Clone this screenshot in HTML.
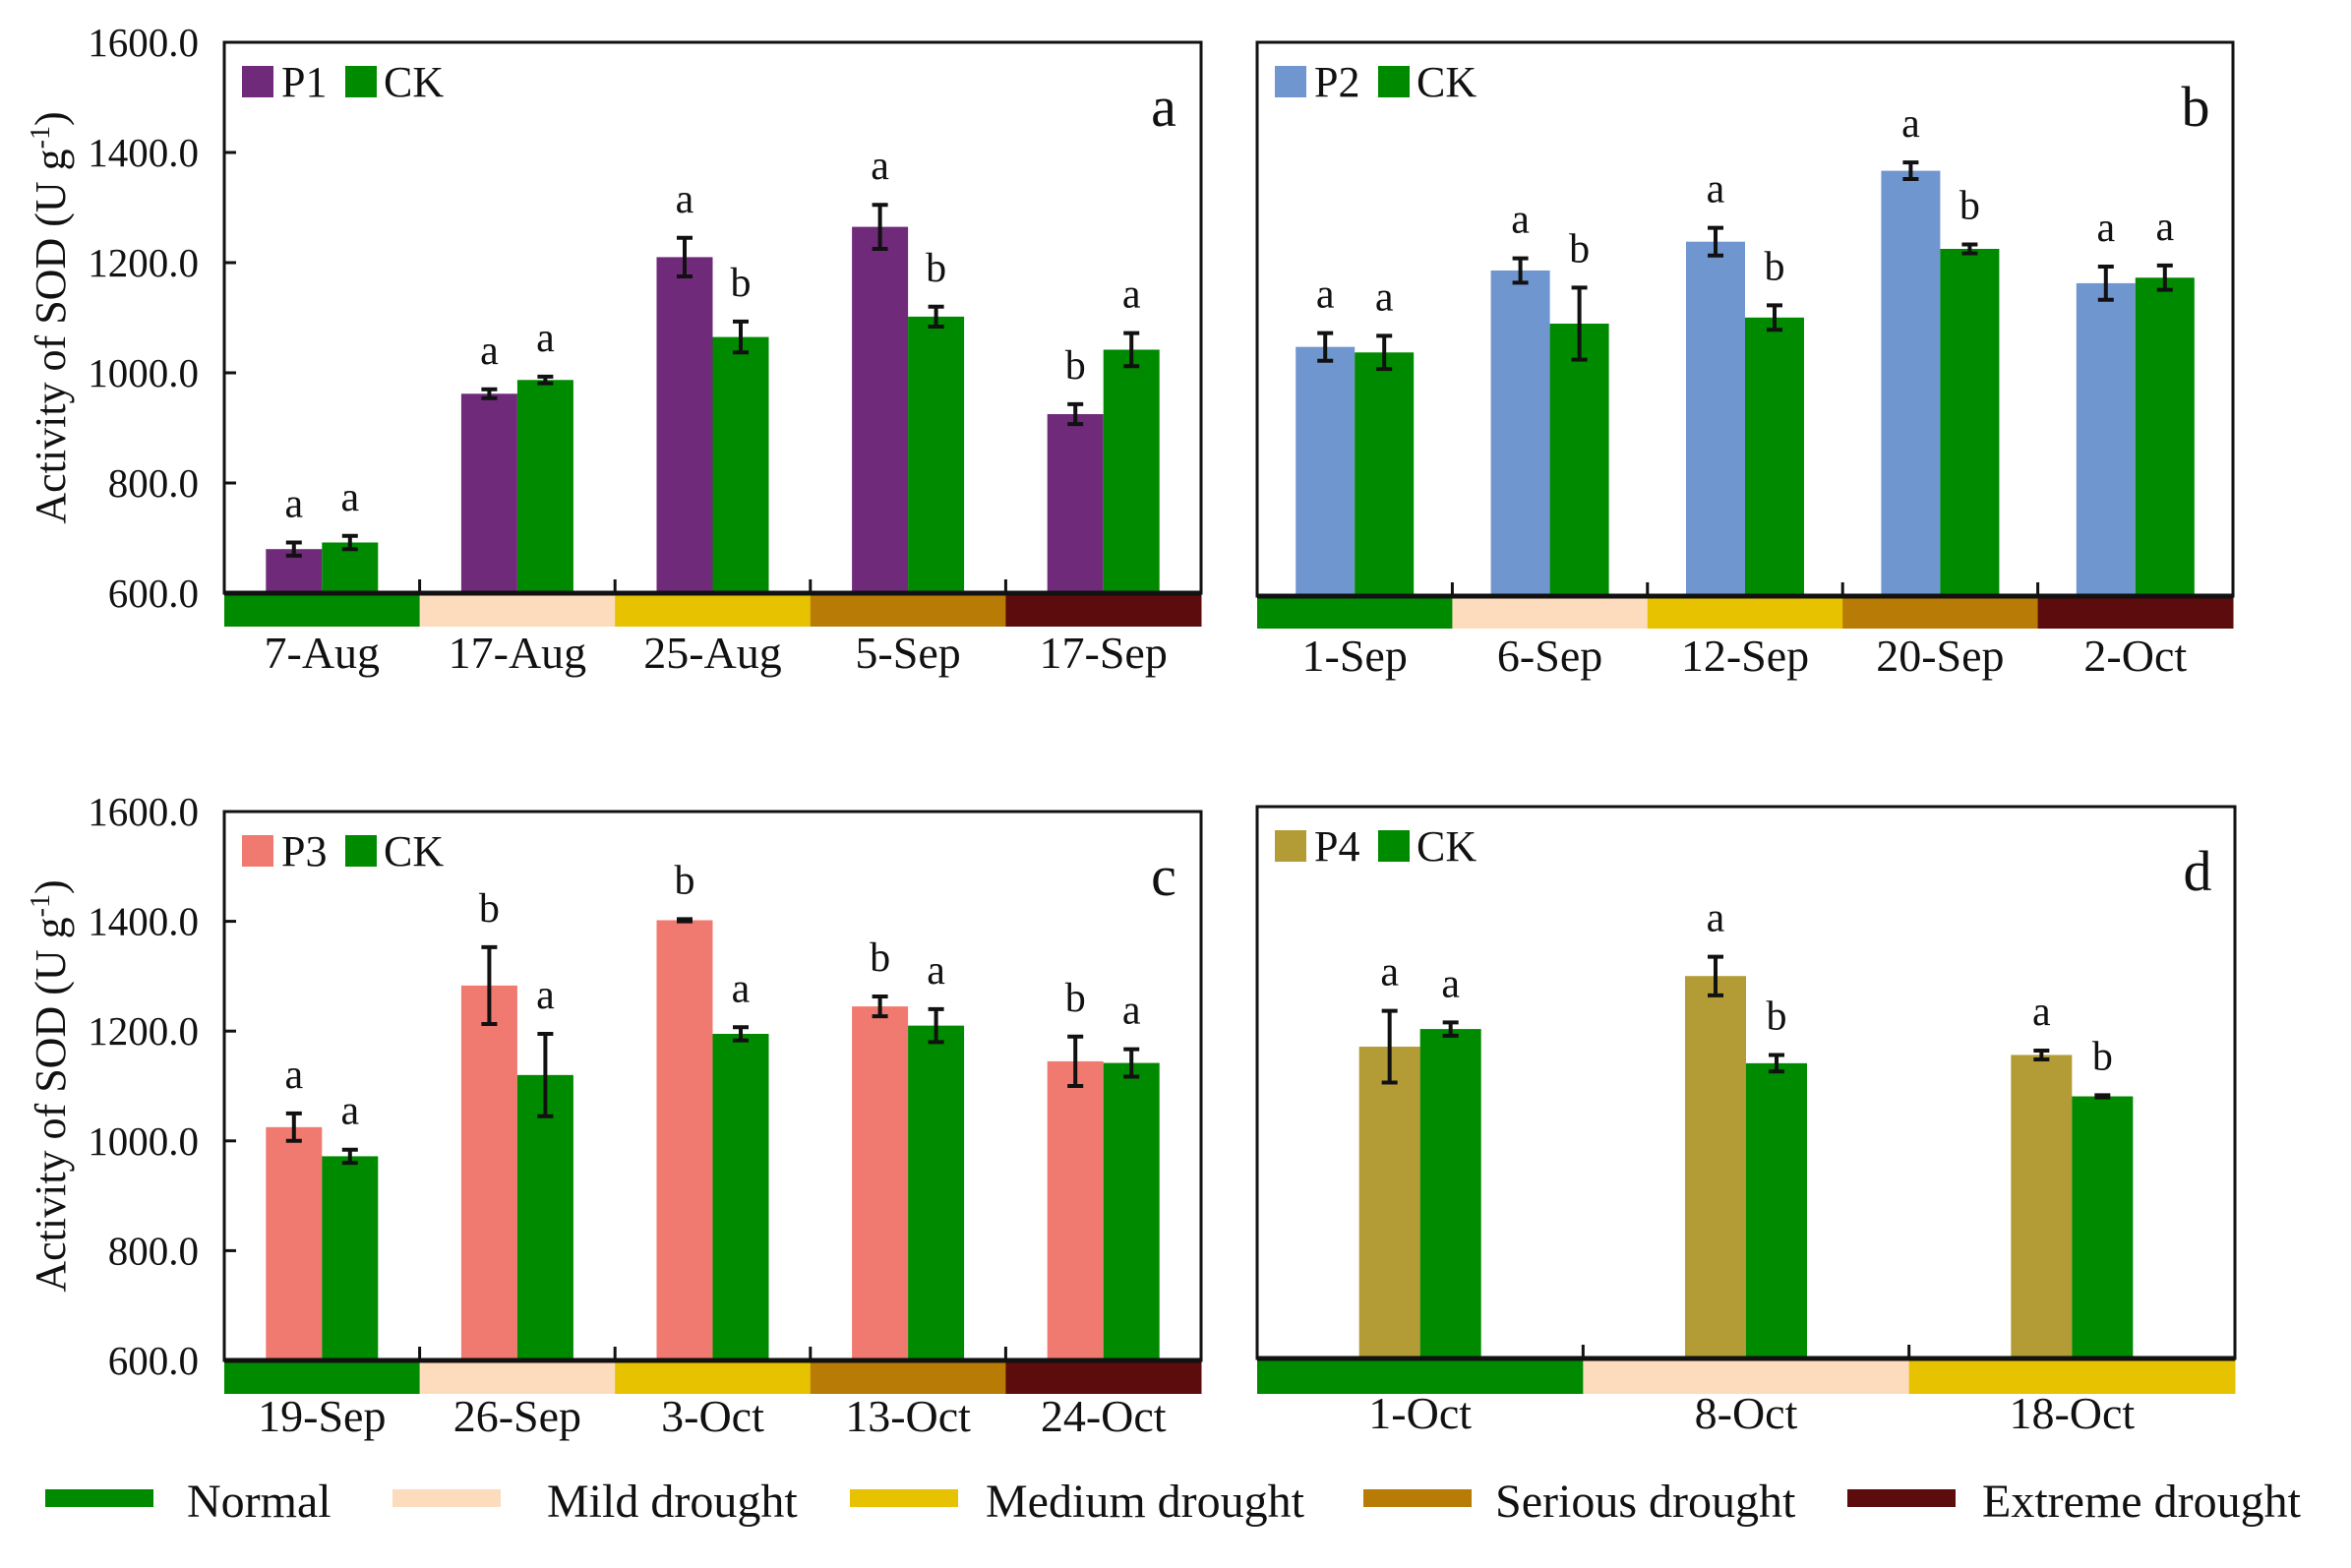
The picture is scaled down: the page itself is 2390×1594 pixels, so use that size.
<!DOCTYPE html>
<html><head><meta charset="utf-8"><style>
html,body{margin:0;padding:0;background:#fff;}
svg text{font-family:"Liberation Serif",serif;fill:#111;}
</style></head><body>
<svg id="chart" xmlns="http://www.w3.org/2000/svg" width="2390" height="1589" viewBox="0 0 2390 1589"></svg>
<script>
const catsA=["7-Aug","17-Aug","25-Aug","5-Sep","17-Sep"];
const trtA=[680,962,1210,1265,925];
const trtErrA=[12,8,35,40,18];
const ckA=[692,987,1065,1102,1042];
const ckErrA=[12,6,28,18,30];
const lettersTrtA=["a","a","a","a","b"];
const lettersCkA=["a","a","b","b","a"];

const catsB=["1-Sep","6-Sep","12-Sep","20-Sep","2-Oct"];
const trtB=[1050,1188,1240,1368,1165];
const trtErrB=[25,22,25,15,30];
const ckB=[1040,1092,1103,1227,1175];
const ckErrB=[30,65,22,8,22];
const lettersTrtB=["a","a","a","a","a"];
const lettersCkB=["a","b","b","b","a"];

const catsC=["19-Sep","26-Sep","3-Oct","13-Oct","24-Oct"];
const trtC=[1025,1283,1402,1245,1145];
const trtErrC=[25,70,2,18,45];
const ckC=[972,1120,1195,1210,1142];
const ckErrC=[12,75,12,30,25];
const lettersTrtC=["a","b","b","b","b"];
const lettersCkC=["a","a","a","a","a"];

const catsD=["1-Oct","8-Oct","18-Oct"];
const trtD=[1165,1293,1150];
const trtErrD=[65,35,8];
const ckD=[1197,1135,1075];
const ckErrD=[12,15,2];
const lettersTrtD=["a","a","a"];
const lettersCkD=["a","b","b"];

const yTicks=[600,800,1000,1200,1400,1600];
const yTickLabels=["600.0","800.0","1000.0","1200.0","1400.0","1600.0"];
const droughtNames=["Normal","Mild drought","Medium drought","Serious drought","Extreme drought"];
const droughtColors=["#008a00","#fddcbe","#e6c200","#b87c06","#5c0c0c"];

const NS="http://www.w3.org/2000/svg";
const svg=document.getElementById('chart');
function mk(tag,attrs,parent){const e=document.createElementNS(NS,tag);for(const k in attrs)e.setAttribute(k,attrs[k]);(parent||svg).appendChild(e);return e;}

function panel(o){
  const g=mk('g',{});
  
  
  const y=v=>o.y1-(v-600)/(1000)*(o.y1-o.y0);
  const n=o.cats.length, gw=(o.x1-o.x0)/n, bw=o.bw;
  for(let i=0;i<n;i++){
    const r=mk('rect',{x:o.x0+i*gw,y:o.y1,width:gw+0.5,height:o.stripH,fill:droughtColors[i]},g);
    
    
  }
  for(let i=0;i<n;i++){
    const cx=o.x0+(i+0.5)*gw;
    const sets=[[o.trt[i],o.trtErr[i],o.color,cx-bw,o.lt[i]],[o.ck[i],o.ckErr[i],"#008a00",cx,o.lc[i]]];
    sets.forEach((s,j)=>{
      const b=mk('rect',{x:s[3],y:y(s[0]),width:bw,height:o.y1-y(s[0]),fill:s[2]},g);
      
      
      const ex=s[3]+bw/2, t=y(s[0]+s[1]), bo=y(s[0]-s[1]);
      const eb=mk('path',{d:`M${ex},${t}V${bo}M${ex-8},${t}H${ex+8}M${ex-8},${bo}H${ex+8}`,stroke:"#111","stroke-width":4,fill:"none"},g);
      
      
      const lt=mk('text',{x:ex,y:t-26,"font-size":42,"text-anchor":"middle"},g);
      lt.textContent=s[4];
      
      
    });
    const xl=mk('text',{x:cx,y:o.labY,"font-size":46,"text-anchor":"middle"},g);
    xl.textContent=o.cats[i];
    
    
    if(i>0){const tk=mk('line',{x1:o.x0+i*gw,x2:o.x0+i*gw,y1:o.y1,y2:o.y1-14,stroke:"#111","stroke-width":3},g);
      }
  }
  const fr=mk('rect',{x:o.x0,y:o.y0,width:o.x1-o.x0,height:o.y1-o.y0,fill:"none",stroke:"#111","stroke-width":3},g);
  
  mk('line',{x1:o.x0,x2:o.x1,y1:o.y1,y2:o.y1,stroke:"#111","stroke-width":5},g);
  if(o.yl){
    yTicks.forEach((v,k)=>{
      const tk=mk('line',{x1:o.x0,x2:o.x0+12,y1:y(v),y2:y(v),stroke:"#111","stroke-width":3},g);
      
      const tl=mk('text',{x:o.x0-26,y:y(v)+14,"font-size":41,"text-anchor":"end"},g);
      tl.textContent=yTickLabels[k];
      
    });
    const cy=(o.y0+o.y1)/2;
    const at=mk('text',{x:66,y:cy,"font-size":44,"text-anchor":"middle",transform:`rotate(-90 66 ${cy})`},g);
    at.innerHTML='Activity of  SOD (U g<tspan dy="-16" font-size="28">-1</tspan><tspan dy="16">)</tspan>';
    
  }
  const lx=o.x0+18, ly=o.y0+24;
  const s1=mk('rect',{x:lx,y:ly,width:32,height:32,fill:o.color},g);
  
  const t1=mk('text',{x:lx+40,y:ly+31,"font-size":44},g);t1.textContent=o.name;
  
  const s2=mk('rect',{x:lx+105,y:ly,width:32,height:32,fill:"#008a00"},g);
  
  const t2=mk('text',{x:lx+144,y:ly+31,"font-size":44},g);t2.textContent="CK";
  
  const pl=mk('text',{x:o.x1-38,y:o.y0+85,"font-size":58,"text-anchor":"middle"},g);pl.textContent=o.letter;
  
}
panel({letter:"a",name:"P1",color:"#6f2a7a",cats:catsA,trt:trtA,trtErr:trtErrA,ck:ckA,ckErr:ckErrA,lt:lettersTrtA,lc:lettersCkA,x0:228,x1:1221,y0:43,y1:603,stripH:34,labY:679,bw:57,yl:true});
panel({letter:"b",name:"P2",color:"#7096d0",cats:catsB,trt:trtB,trtErr:trtErrB,ck:ckB,ckErr:ckErrB,lt:lettersTrtB,lc:lettersCkB,x0:1278,x1:2270,y0:43,y1:606,stripH:33,labY:682,bw:60,yl:false});
panel({letter:"c",name:"P3",color:"#f07a70",cats:catsC,trt:trtC,trtErr:trtErrC,ck:ckC,ckErr:ckErrC,lt:lettersTrtC,lc:lettersCkC,x0:228,x1:1221,y0:825,y1:1383,stripH:34,labY:1455,bw:57,yl:true});
panel({letter:"d",name:"P4",color:"#b39b35",cats:catsD,trt:trtD,trtErr:trtErrD,ck:ckD,ckErr:ckErrD,lt:lettersTrtD,lc:lettersCkD,x0:1278,x1:2272,y0:820,y1:1381,stripH:36,labY:1452,bw:62,yl:false});

const legX=[46,399,864,1386,1878], legTX=[190,556,1002,1520,2015];
droughtNames.forEach((nm,i)=>{
  const r=mk('rect',{x:legX[i],y:1514,width:110,height:18,fill:droughtColors[i]});
  
  const t=mk('text',{x:legTX[i],y:1542,"font-size":48});t.textContent=nm;
  
});
</script>
</body></html>
